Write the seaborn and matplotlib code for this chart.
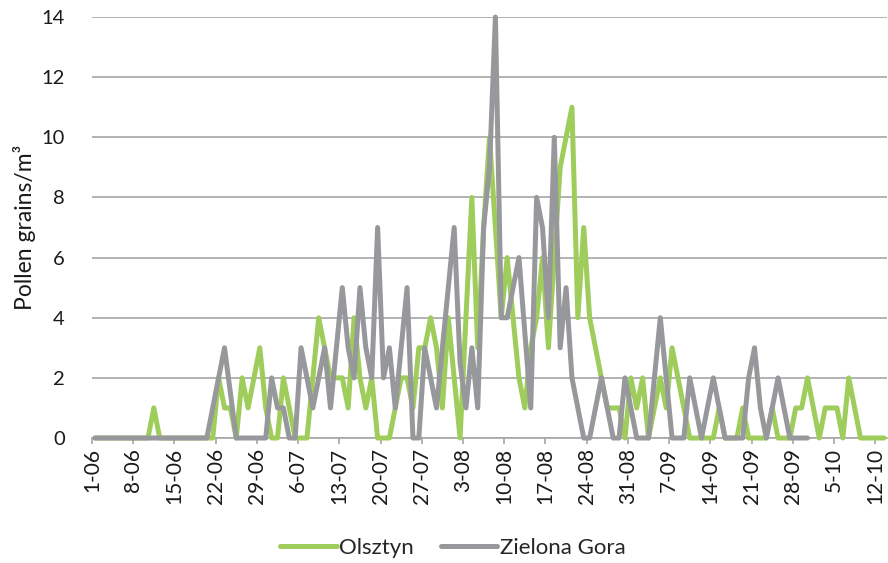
import pandas as pd
import seaborn as sns
import matplotlib.pyplot as plt

# daily pollen counts, one value per day starting 1-06
olsztyn = [0, 0, 0, 0, 0, 0, 0, 0, 0, 0,
           1, 0, 0, 0, 0, 0, 0, 0, 0, 0,
           0, 2, 1, 1, 0, 2, 1, 2, 3, 1,
           0, 0, 2, 1, 0, 0, 0, 2, 4, 3,
           2, 2, 2, 1, 4, 2, 1, 2, 0, 0,
           0, 1, 2, 2, 1, 3, 3, 4, 3, 1,
           4, 2, 0, 4, 8, 3, 7, 10, 7, 4,
           6, 4, 2, 1, 3, 4, 6, 3, 6, 9,
           10, 11, 4, 7, 4, 3, 2, 1, 1, 1,
           0, 2, 1, 2, 0, 1, 2, 1, 3, 2,
           1, 0, 0, 0, 0, 0, 1, 0, 0, 0,
           1, 0, 0, 0, 0, 1, 0, 0, 0, 1,
           1, 2, 1, 0, 1, 1, 1, 0, 2, 1,
           0, 0, 0, 0, 0]
zielona_gora = [0, 0, 0, 0, 0, 0, 0, 0, 0, 0,
                0, 0, 0, 0, 0, 0, 0, 0, 0, 0,
                1, 2, 3, 1.5, 0, 0, 0, 0, 0, 0,
                2, 1, 1, 0, 0, 3, 2, 1, 2, 3,
                1, 3, 5, 3, 2, 5, 3, 2, 7, 2,
                3, 1, 3, 5, 0, 0, 3, 2, 1, 3,
                5, 7, 2.5, 1, 3, 1, 7, 9, 14, 4,
                4, 5, 6, 3.5, 1, 8, 7, 4, 10, 3,
                5, 2, 1, 0, 0, 1, 2, 1, 0, 0,
                2, 1, 0, 0, 0, 2, 4, 2, 0, 0,
                0, 2, 1, 0, 1, 2, 1, 0, 0, 0,
                0, 2, 3, 1, 0, 1, 2, 1, 0, 0,
                0, 0]
tick_labels = ["1-06", "8-06", "15-06", "22-06", "29-06", "6-07", "13-07",
               "20-07", "27-07", "3-08", "10-08", "17-08", "24-08", "31-08",
               "7-09", "14-09", "21-09", "28-09", "5-10", "12-10"]

df = pd.concat([
    pd.DataFrame({"day": range(len(olsztyn)), "value": olsztyn, "site": "Olsztyn"}),
    pd.DataFrame({"day": range(len(zielona_gora)), "value": zielona_gora, "site": "Zielona Gora"}),
])

sns.set_style("white")
plt.rcParams["font.family"] = ["Lato", "DejaVu Sans"]

fig = plt.figure(figsize=(8.88, 5.63), dpi=100)
ax = fig.add_axes([0.1036, 0.222, 0.8953, 0.7478])

palette = {"Olsztyn": "#9FCD5C", "Zielona Gora": "#97989C"}
sns.lineplot(data=df, x="day", y="value", hue="site", palette=palette,
             estimator=None, linewidth=3.6, ax=ax)
for line in ax.get_lines():
    line.set_clip_on(False)
    line.set_solid_joinstyle("round")
    line.set_zorder(3)

ax.set_xlim(-0.5, len(olsztyn) - 0.5)
ax.set_ylim(0, 14)
ax.set_yticks(range(0, 15, 2))
ax.set_xticks([7 * i - 0.5 for i in range(len(tick_labels))])
ax.set_xticklabels(tick_labels, rotation=90)
ax.yaxis.grid(True, color="#A6A6A6", linewidth=1.2)
ax.set_axisbelow(True)
for side in ["left", "right", "top"]:
    ax.spines[side].set_visible(False)
ax.spines["bottom"].set_color("#A6A6A6")
ax.spines["bottom"].set_linewidth(1.2)
ax.tick_params(axis="x", bottom=True, length=4, width=1.2, color="#A6A6A6",
               labelsize=15, labelcolor="#1a1a1a", pad=3)
ax.tick_params(axis="y", left=False, labelsize=14.5, labelcolor="#1a1a1a", pad=16)
ax.set_xlabel("")
ax.set_ylabel("Pollen grains/m³", fontsize=16.5, color="#1a1a1a", labelpad=4)

handles, labels = ax.get_legend_handles_labels()
ax.legend(handles, labels, loc="center", bbox_to_anchor=(0.51, 0.027),
          bbox_transform=fig.transFigure, ncol=2, frameon=False,
          fontsize=16, handlelength=2.55, handletextpad=0.12, columnspacing=1.2)

fig.savefig("out.png", dpi=100)
